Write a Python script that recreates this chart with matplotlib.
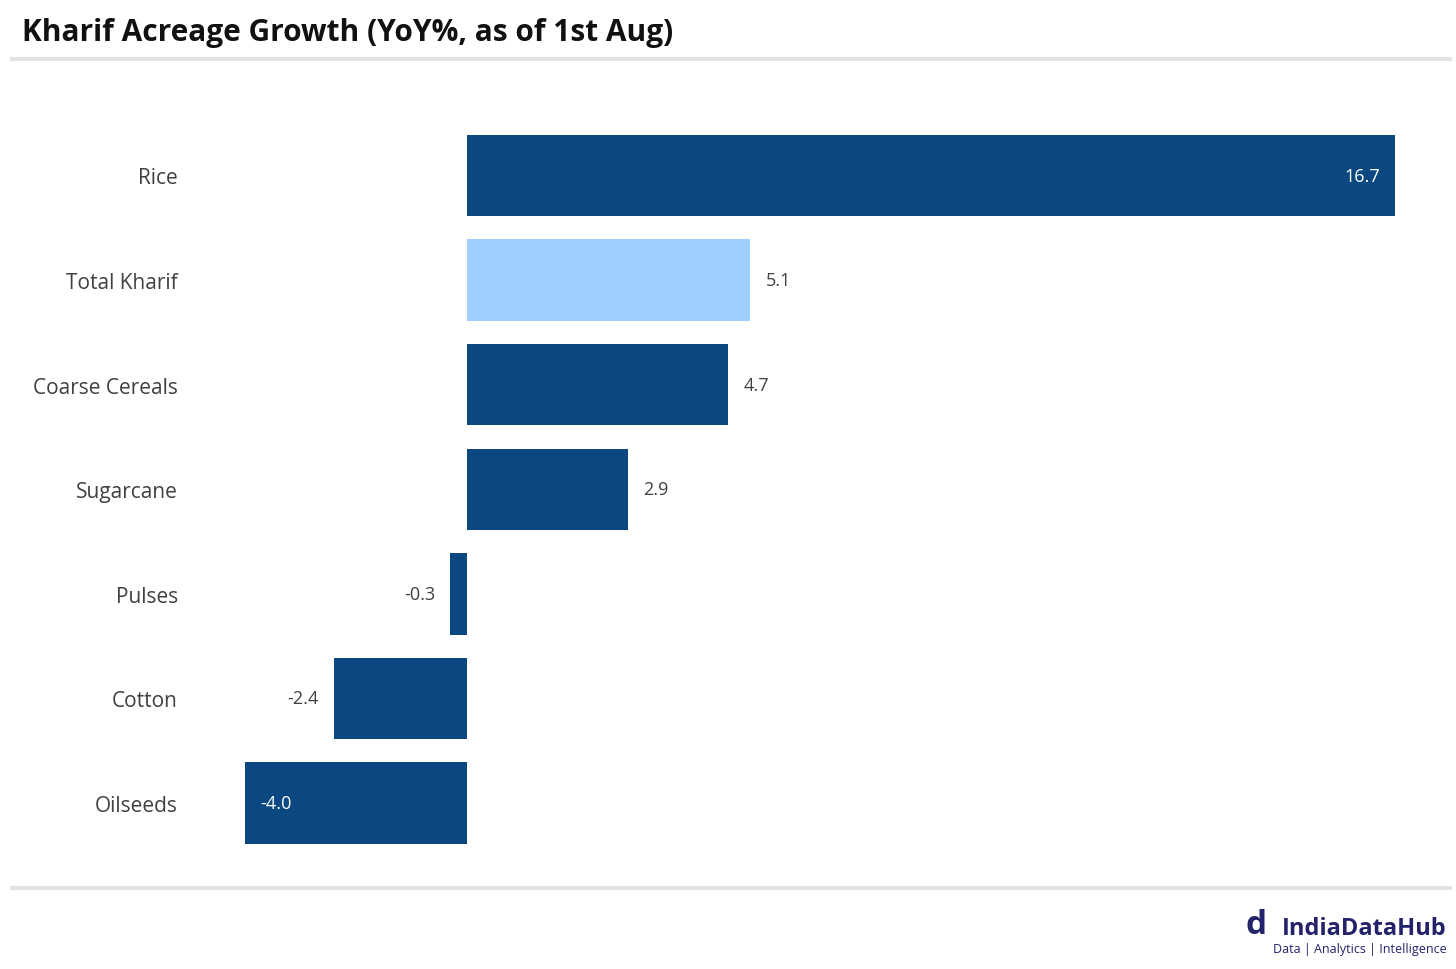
import matplotlib
matplotlib.use("Agg")
import matplotlib.pyplot as plt
from matplotlib.lines import Line2D

categories = ["Rice", "Total Kharif", "Coarse Cereals", "Sugarcane", "Pulses", "Cotton", "Oilseeds"]
values = [16.7, 5.1, 4.7, 2.9, -0.3, -2.4, -4.0]
highlight = "Total Kharif"
title = "Kharif Acreage Growth (YoY%, as of 1st Aug)"

DARK = "#0B4881"
LIGHT = "#A0CFFF"
TXT = "#404040"

plt.rcParams['font.family'] = ['Open Sans', 'DejaVu Sans']

W, H = 1456, 970
fig = plt.figure(figsize=(W / 100, H / 100), dpi=100)

# axes placement in pixels
ax_l, ax_r, ax_t, ax_b = 200, 1430, 100, 870
ax = fig.add_axes([ax_l / W, 1 - ax_b / H, (ax_r - ax_l) / W, (ax_b - ax_t) / H])

zero_px, rice_px = 467, 1395
ppu = (rice_px - zero_px) / 16.7
ax.set_xlim((ax_l - zero_px) / ppu, (ax_r - zero_px) / ppu)
c0, step = 176.5, 104.6
ax.set_ylim((ax_b - c0) / step, (ax_t - c0) / step)

ypos = list(range(len(categories)))
colors = [LIGHT if c == highlight else DARK for c in categories]
bars = ax.barh(ypos, values, height=0.78, color=colors)

for b, v in zip(bars, values):
    y = b.get_y() + b.get_height() / 2
    label = f"{v:.1f}"
    inside = v > 10 or v < -3.5
    if v >= 0:
        if inside:
            ax.annotate(label, (v, y), xytext=(-11, 0), textcoords="offset points",
                        ha="right", va="center", color="white", fontsize=13)
        else:
            ax.annotate(label, (v, y), xytext=(11, 0), textcoords="offset points",
                        ha="left", va="center", color=TXT, fontsize=13)
    else:
        if inside:
            ax.annotate(label, (v, y), xytext=(11, 0), textcoords="offset points",
                        ha="left", va="center", color="white", fontsize=13)
        else:
            ax.annotate(label, (v, y), xytext=(-11, 0), textcoords="offset points",
                        ha="right", va="center", color=TXT, fontsize=13)

ax.set_yticks(ypos)
ax.set_yticklabels(categories, fontsize=15, color=TXT)
ax.tick_params(axis="y", length=0, pad=(ax_l - 178) * 0.72)
ax.set_xticks([])
for s in ax.spines.values():
    s.set_visible(False)

# title and separators
fig.text(22 / W, 1 - 33 / H, title, fontsize=21.5, fontweight="bold", color="#111111",
         ha="left", va="center")
fig.add_artist(Line2D([12 / W, 1450 / W], [1 - 60 / H, 1 - 60 / H], color="#E3E3E3", lw=3))
fig.add_artist(Line2D([12 / W, 1450 / W], [1 - 889 / H, 1 - 889 / H], color="#E3E3E3", lw=3))

# logo text
NAVY = "#23236B"
fig.text(1447 / W, 1 - 929 / H, "IndiaDataHub", fontsize=17, fontweight="bold", color=NAVY,
         ha="right", va="center")
fig.text(1447 / W, 1 - 950 / H, "Data | Analytics | Intelligence", fontsize=9, color=NAVY,
         ha="right", va="center")
fig.text(1256 / W, 1 - 926 / H, "d", fontsize=24, fontweight="bold", color=NAVY,
         ha="center", va="center")

fig.savefig("out.png", dpi=100)
